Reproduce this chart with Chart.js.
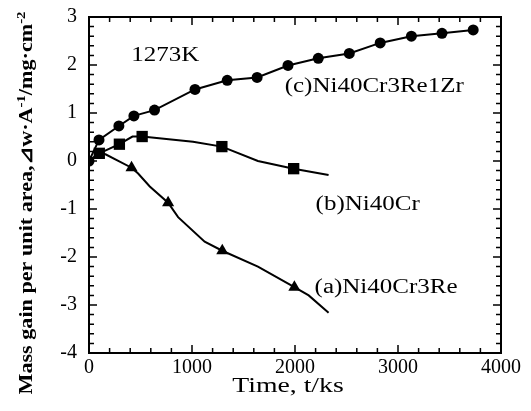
<!DOCTYPE html>
<html>
<head>
<meta charset="utf-8">
<script src="https://cdn.jsdelivr.net/npm/chart.js@4"></script>
<style>
  html, body { margin: 0; padding: 0; background: #fff; }
  #wrap { width: 531px; height: 411px; }
</style>
</head>
<body>
<div id="wrap"><canvas id="mass_chart"></canvas></div>
<script>
// (a) Ni40Cr3Re - triangles
const timeA = [0, 100, 160, 413, 477, 590, 768, 865, 1123, 1294, 1640, 1994, 2133, 2326];
const massA = [0, 0.16, 0.14, -0.14, -0.26, -0.53, -0.87, -1.17, -1.68, -1.87, -2.20, -2.63, -2.80, -3.16];
const markA = [0, 0, 0, 1, 0, 0, 1, 0, 0, 1, 0, 1, 0, 0];

// (b) Ni40Cr - squares
const timeB = [0, 100, 295, 422, 516, 1010, 1290, 1640, 1987, 2326];
const massB = [0, 0.16, 0.35, 0.51, 0.51, 0.40, 0.30, 0.0, -0.16, -0.29];
const markB = [0, 1, 1, 0, 1, 0, 1, 0, 1, 0];

// (c) Ni40Cr3Re1Zr - circles
const timeC = [0, 97, 290, 436, 636, 1029, 1342, 1632, 1932, 2226, 2527, 2827, 3130, 3427, 3730];
const massC = [0, 0.44, 0.73, 0.94, 1.06, 1.49, 1.68, 1.74, 1.99, 2.14, 2.24, 2.46, 2.60, 2.66, 2.73];
const markC = [1, 1, 1, 1, 1, 1, 1, 1, 1, 1, 1, 1, 1, 1, 1];

const xTicks = [0, 1000, 2000, 3000, 4000];
const yTicks = [-4, -3, -2, -1, 0, 1, 2, 3];

// text labels placed in data coordinates
const noteText = ['1273K', '(c)Ni40Cr3Re1Zr', '(b)Ni40Cr', '(a)Ni40Cr3Re'];
const noteX = [410, 1900, 2200, 2190];
const noteY = [2.08, 1.44, -1.02, -2.75];

const SERIF = '"Liberation Serif", "Times New Roman", serif';
const BLACK = '#000';
const STRETCH = 1.25;

const toPoints = (times, values) => times.map((t, i) => ({ x: t, y: values[i] }));

const makeSeries = (label, times, values, marks, style, radius) => ({
    label: label,
    data: toPoints(times, values),
    showLine: true,
    borderColor: BLACK,
    backgroundColor: BLACK,
    borderWidth: 2,
    pointStyle: style,
    pointRadius: marks.map(m => m ? radius : 0),
    pointHoverRadius: marks.map(m => m ? radius : 0),
    pointBorderWidth: 0,
    tension: 0,
});

const drawStretched = (ctx, text, x, y, font, align, sx) => {
    ctx.save();
    ctx.font = font;
    ctx.fillStyle = BLACK;
    ctx.textBaseline = 'alphabetic';
    const w = ctx.measureText(text).width * sx;
    let left = x;
    if (align === 'center') left = x - w / 2;
    ctx.translate(left, y);
    ctx.scale(sx, 1);
    ctx.textAlign = 'left';
    ctx.fillText(text, 0, 0);
    ctx.restore();
};

const framePlugin = {
    id: 'frame',
    afterDraw(chart) {
        const ctx = chart.ctx;
        const xs = chart.scales.x;
        const ys = chart.scales.y;
        const area = chart.chartArea;
        ctx.save();
        ctx.strokeStyle = BLACK;
        ctx.lineWidth = 2;
        ctx.strokeRect(area.left, area.top, area.right - area.left, area.bottom - area.top);

        ctx.lineWidth = 1.5;
        ctx.beginPath();
        for (let v = 0; v <= 4000; v += 200) {
            const px = xs.getPixelForValue(v);
            const len = v % 1000 === 0 ? 8 : 5;
            ctx.moveTo(px, area.bottom); ctx.lineTo(px, area.bottom - len);
            ctx.moveTo(px, area.top); ctx.lineTo(px, area.top + len);
        }
        for (let k = -20; k <= 15; k++) {
            const v = k / 5;
            const py = ys.getPixelForValue(v);
            const len = k % 5 === 0 ? 8 : 5;
            ctx.moveTo(area.left, py); ctx.lineTo(area.left + len, py);
            ctx.moveTo(area.right, py); ctx.lineTo(area.right - len, py);
        }
        ctx.stroke();
        ctx.restore();

        // annotations
        noteText.forEach((t, i) => {
            drawStretched(ctx, t, xs.getPixelForValue(noteX[i]), ys.getPixelForValue(noteY[i]),
                '20px ' + SERIF, 'left', STRETCH);
        });

        // x title
        drawStretched(ctx, 'Time, t/ks', 288, 392, '21px ' + SERIF, 'center', 1.32);

        // y title with superscripts
        const parts = [
            ['Mass gain per unit area,\u22BFw\u00B7A', false],
            ['-1', true],
            ['/mg\u00B7cm', false],
            ['-2', true],
        ];
        const mainFont = 'bold 18px ' + SERIF;
        const supFont = 'bold 12px ' + SERIF;
        ctx.save();
        ctx.fillStyle = BLACK;
        let total = 0;
        parts.forEach(p => { ctx.font = p[1] ? supFont : mainFont; total += ctx.measureText(p[0]).width; });
        const sx = 383 / total;
        ctx.translate(32, 203);
        ctx.rotate(-Math.PI / 2);
        ctx.scale(sx, 1);
        let cx = -total / 2;
        parts.forEach(p => {
            ctx.font = p[1] ? supFont : mainFont;
            ctx.fillText(p[0], cx, p[1] ? -7 : 0);
            cx += ctx.measureText(p[0]).width;
        });
        ctx.restore();
    }
};

const config = {
    type: 'scatter',
    data: {
        datasets: [
            makeSeries('(a)Ni40Cr3Re', timeA, massA, markA, 'triangle', 7),
            makeSeries('(b)Ni40Cr', timeB, massB, markB, 'rect', 8),
            makeSeries('(c)Ni40Cr3Re1Zr', timeC, massC, markC, 'circle', 5.5),
        ]
    },
    options: {
        responsive: false,
        animation: false,
        layout: { padding: { top: 17, right: 30, left: 0, bottom: 0 } },
        plugins: {
            legend: { display: false },
            tooltip: { enabled: false },
        },
        scales: {
            x: {
                type: 'linear',
                min: 0,
                max: 4000,
                afterBuildTicks: (scale) => { scale.ticks = xTicks.map(v => ({ value: v })); },
                afterFit: (scale) => { scale.height = 58; },
                grid: { display: false, drawTicks: false },
                border: { display: false },
                ticks: {
                    color: BLACK,
                    padding: 3,
                    maxRotation: 0,
                    font: { family: SERIF, size: 20 },
                    callback: (value) => String(value),
                },
            },
            y: {
                type: 'linear',
                min: -4,
                max: 3,
                afterBuildTicks: (scale) => { scale.ticks = yTicks.map(v => ({ value: v })); },
                afterFit: (scale) => {
                    scale.width = 89;
                    scale.paddingTop = 0;
                    scale.paddingBottom = 0;
                },
                grid: { display: false, drawTicks: false },
                border: { display: false },
                ticks: {
                    color: BLACK,
                    padding: 12,
                    font: { family: SERIF, size: 20 },
                    callback: (value) => String(value),
                },
            },
        },
    },
    plugins: [framePlugin],
};

const canvas = document.getElementById('mass_chart');
canvas.width = 531;
canvas.height = 411;
const massChart = new Chart(canvas, config);
</script>
</body>
</html>
